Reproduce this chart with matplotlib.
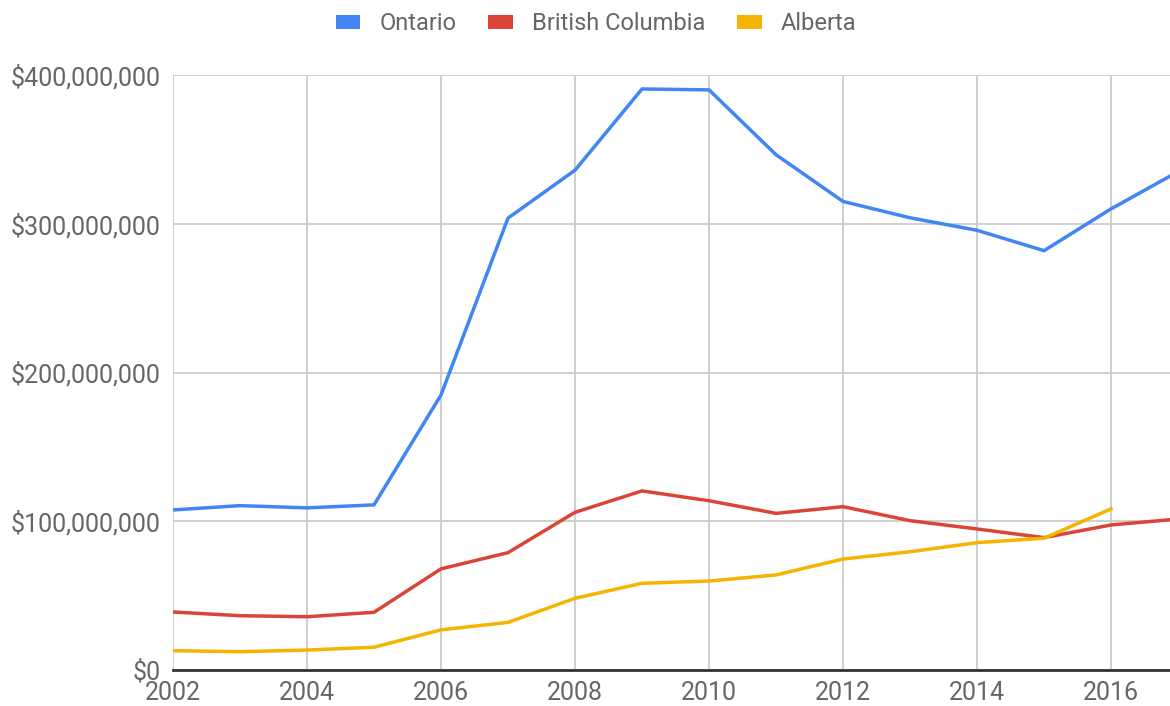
import matplotlib
matplotlib.use("Agg")
import matplotlib.pyplot as plt
from matplotlib.patches import Patch
from matplotlib.ticker import FuncFormatter

years = list(range(2002, 2018))
ontario = [107.6, 110.5, 109.0, 111.0, 184.9, 303.8, 336.0, 390.6, 390.0,
           346.4, 315.0, 304.0, 295.6, 281.9, 310.0, 335.0]
bc = [39.0, 36.5, 35.8, 38.8, 68.0, 78.9, 106.0, 120.4, 113.8,
      105.3, 109.8, 100.4, 94.8, 89.0, 97.5, 101.5]
alberta_years = list(range(2002, 2017))
alberta = [13.0, 12.3, 13.4, 15.3, 27.0, 32.0, 48.2, 58.3, 59.8,
           63.9, 74.6, 79.5, 85.6, 88.6, 108.3]

series = ["Ontario", "British Columbia", "Alberta"]
colors = ["#4285F4", "#DB4437", "#F4B400"]
xticks = list(range(2002, 2017, 2))
yticks = [0, 100, 200, 300, 400]

plt.rcParams['font.family'] = ['Roboto', 'DejaVu Sans']
grey = "#666666"

fig = plt.figure(figsize=(11.7, 7.06), dpi=100)
ax = fig.add_axes([173/1170, 36/706, 1 - 173/1170, (670-75)/706])

ax.plot(years, [v*1e6 for v in ontario], color=colors[0], lw=2.5, zorder=3)
ax.plot(years, [v*1e6 for v in bc], color=colors[1], lw=2.5, zorder=3)
ax.plot(alberta_years, [v*1e6 for v in alberta], color=colors[2], lw=2.5, zorder=3)

ax.set_xlim(2002, 2016.88)
ax.set_ylim(0, 400e6)
ax.set_xticks(xticks)
ax.set_yticks([v*1e6 for v in yticks])
ax.yaxis.set_major_formatter(FuncFormatter(lambda v, p: "$" + format(int(round(v)), ",")))
ax.grid(True, color="#cccccc", lw=1.3, zorder=0)
ax.set_axisbelow(True)
for s in ["top", "right", "left"]:
    ax.spines[s].set_visible(False)
ax.spines["bottom"].set_color("#333333")
ax.spines["bottom"].set_linewidth(2)
ax.spines["bottom"].set_zorder(4)
ax.tick_params(axis="both", length=0, labelsize=18, labelcolor=grey)
ax.tick_params(axis="y", pad=9)
ax.tick_params(axis="x", pad=8)

handles = [Patch(facecolor=c, edgecolor="none") for c in colors]
fig.legend(handles, series, loc="center", bbox_to_anchor=(596/1170, 1 - 24/706),
           ncol=3, frameon=False, fontsize=17, labelcolor=grey,
           handlelength=1.05, handleheight=0.55, handletextpad=0.8, columnspacing=1.35)

fig.savefig("out.png", dpi=100)
